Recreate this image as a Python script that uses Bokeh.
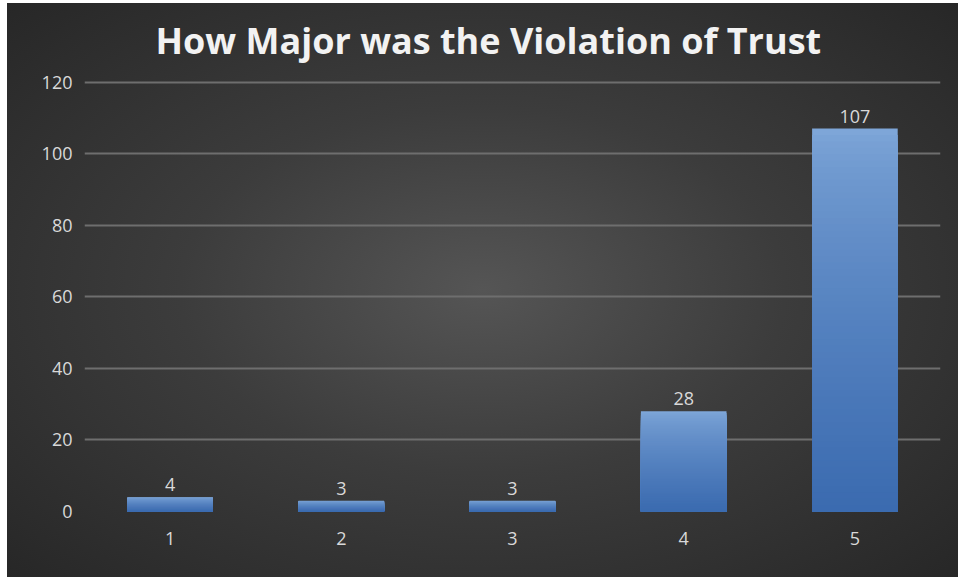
from bokeh.plotting import figure
from bokeh.models import FactorRange, Range1d, FixedTicker, ColumnDataSource
from bokeh.core.properties import value
from bokeh.embed import file_html
from bokeh.resources import INLINE

# ---- data ----
categories = ["1", "2", "3", "4", "5"]
counts = [4, 3, 3, 28, 107]
y_ticks = [0, 20, 40, 60, 80, 100, 120]
title_text = "How Major was the Violation of Trust"

FONT = "Open Sans"
LABEL_COLOR = "#d9d9d9"

p = figure(
    x_range=FactorRange(*categories, range_padding=0),
    y_range=Range1d(0, 121),
    width=951, height=574,
    output_backend="svg", toolbar_location=None,
    min_border_left=77, min_border_right=18,
    min_border_top=75, min_border_bottom=66,
)
p.margin = (3, 0, 0, 7)
p.styles = {
    "background-image": "radial-gradient(ellipse at 50% 50%, #555555 0%, #3c3c3c 45%, #272727 100%)",
}
p.border_fill_color = None
p.background_fill_color = None
p.outline_line_color = None

p.title.text = title_text
p.title.text_font = FONT
p.title.text_font_size = "36px"
p.title.text_font_style = "bold"
p.title.text_color = "#f2f2f2"
p.title.align = "left"
p.title.offset = 71
p.title.standoff = 24
p.title.vertical_align = "top"
p.title.text_line_height = 0.6

# bars with vertical gradient (stacked overlays, light top -> dark bottom)
light = (0x7e, 0xa6, 0xd8)
dark = (0x3b, 0x6b, 0xb0)
N = 60
for k in range(N):
    f = 1 - k / N
    t = (k / (N - 1)) ** 0.7
    col = "#%02x%02x%02x" % tuple(int(round(light[i] + (dark[i] - light[i]) * t)) for i in range(3))
    src = ColumnDataSource(dict(x=categories, top=[c * f for c in counts]))
    p.vbar(x="x", top="top", width=0.5, source=src, fill_color=col, line_color=None)

# value labels
lab = ColumnDataSource(dict(x=categories, y=counts, t=[str(c) for c in counts]))
p.text(x="x", y="y", text="t", source=lab, text_align="center", text_baseline="bottom",
       y_offset=-6, text_font=value(FONT), text_font_size="18px", text_color=LABEL_COLOR)

# axes
for ax in (p.xaxis[0], p.yaxis[0]):
    ax.axis_line_color = None
    ax.major_tick_line_color = None
    ax.minor_tick_line_color = None
    ax.major_tick_in = 0
    ax.major_tick_out = 0
    ax.major_label_text_font = FONT
    ax.major_label_text_font_size = "18px"
    ax.major_label_text_color = LABEL_COLOR
p.yaxis[0].ticker = FixedTicker(ticks=y_ticks)
p.yaxis[0].major_label_standoff = 12
p.xaxis[0].major_label_standoff = 20

p.xgrid.grid_line_color = None
p.ygrid.ticker = FixedTicker(ticks=[t for t in y_ticks if t > 0])
p.ygrid.grid_line_color = "#6e6e6e"
p.ygrid.grid_line_width = 2

open("out.html", "w").write(file_html(p, INLINE))
